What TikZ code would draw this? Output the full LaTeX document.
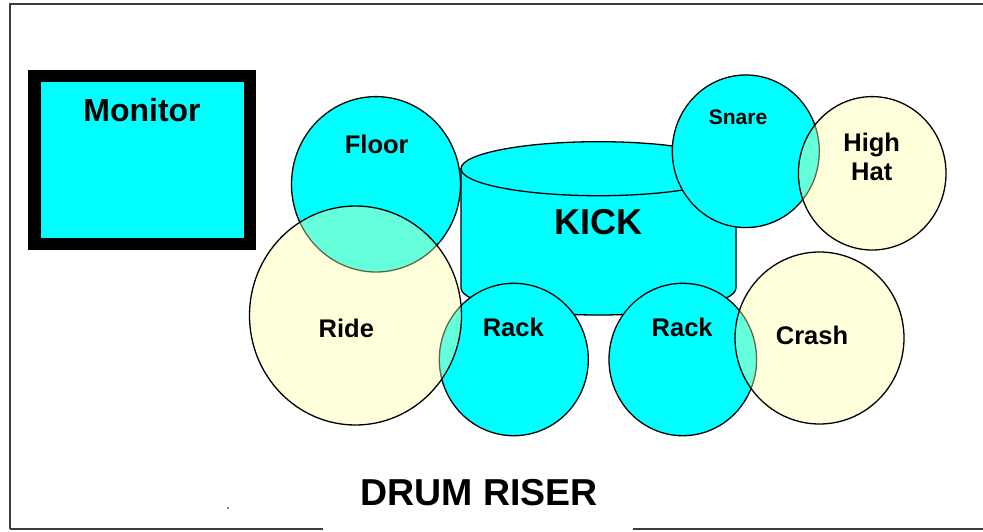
\documentclass[tikz,border=0pt]{standalone}
\usepackage{fontspec}
\setmainfont{Liberation Sans}
\definecolor{drumcyan}{RGB}{0,255,255}
\definecolor{cymbal}{RGB}{255,255,167}
\definecolor{frame}{RGB}{60,60,60}
\tikzset{
  drum/.style={fill=drumcyan, draw=black, line width=1.3pt},
  cym/.style={fill=cymbal, fill opacity=0.4, draw=black, draw opacity=1, line width=1.3pt},
  lbl/.style={anchor=base, inner sep=0pt, font=\bfseries\fontsize{25.5}{29}\selectfont},
}
\begin{document}
\begin{tikzpicture}[x=1pt,y=-1pt]
\useasboundingbox (0,0) rectangle (983,532);
% outer frame
\draw[frame, line width=1.5pt] (10,529) -- (10,4) -- (983,4);
\draw[frame, line width=1.5pt] (10,529) -- (323,529);
\draw[frame, line width=1.5pt] (633,529) -- (983,529);
\fill (228,508) circle (0.9);
% monitor
\fill[black] (28,70) rectangle (256,250);
\fill[drumcyan] (41,82) rectangle (244,238);
\node[lbl, font=\bfseries\fontsize{32}{36}\selectfont] (monitor) at (142,121.7) {Monitor};
% floor tom
\draw[drum] (376,184.3) ellipse [x radius=84.5, y radius=87.7];
% kick cylinder
\filldraw[drum] (461,168.7) -- (461,288) arc[start angle=180, end angle=0, x radius=137.5, y radius=27] -- (736,168.7);
\filldraw[drum] (598.5,168.7) ellipse [x radius=137.5, y radius=27];
% snare
\draw[drum] (745.8,151.3) ellipse [x radius=73.5, y radius=76.3];
% racks
\draw[drum] (513.8,359.5) ellipse [x radius=74.5, y radius=76.2];
\draw[drum] (682.8,359.5) ellipse [x radius=73.8, y radius=76.2];
% cymbals
\draw[cym] (355.5,315.5) ellipse [x radius=106, y radius=109.5];
\draw[cym] (872.2,173.3) ellipse [x radius=73.8, y radius=76.7];
\draw[cym] (819.5,338) ellipse [x radius=84.5, y radius=86];
% labels
\node[lbl] (floor) at (376.7,153.3) {Floor};
\node[lbl, font=\bfseries\fontsize{36}{40}\selectfont] (kick) at (598.8,234.3) {KICK};
\node[lbl, font=\bfseries\fontsize{21}{24}\selectfont] (snare) at (738,124.5) {Snare};
\node[lbl] (high) at (871.7,151.7) {High};
\node[lbl] (hat) at (871.7,181) {Hat};
\node[lbl] (ride) at (346.3,337.7) {Ride};
\node[lbl] (rack1) at (513.3,336.7) {Rack};
\node[lbl] (rack2) at (682.2,336.7) {Rack};
\node[lbl] (crash) at (812,344) {Crash};
\node[lbl, font=\bfseries\fontsize{37.5}{42}\selectfont] (riser) at (479,505) {DRUM RISER};
\end{tikzpicture}
\end{document}
